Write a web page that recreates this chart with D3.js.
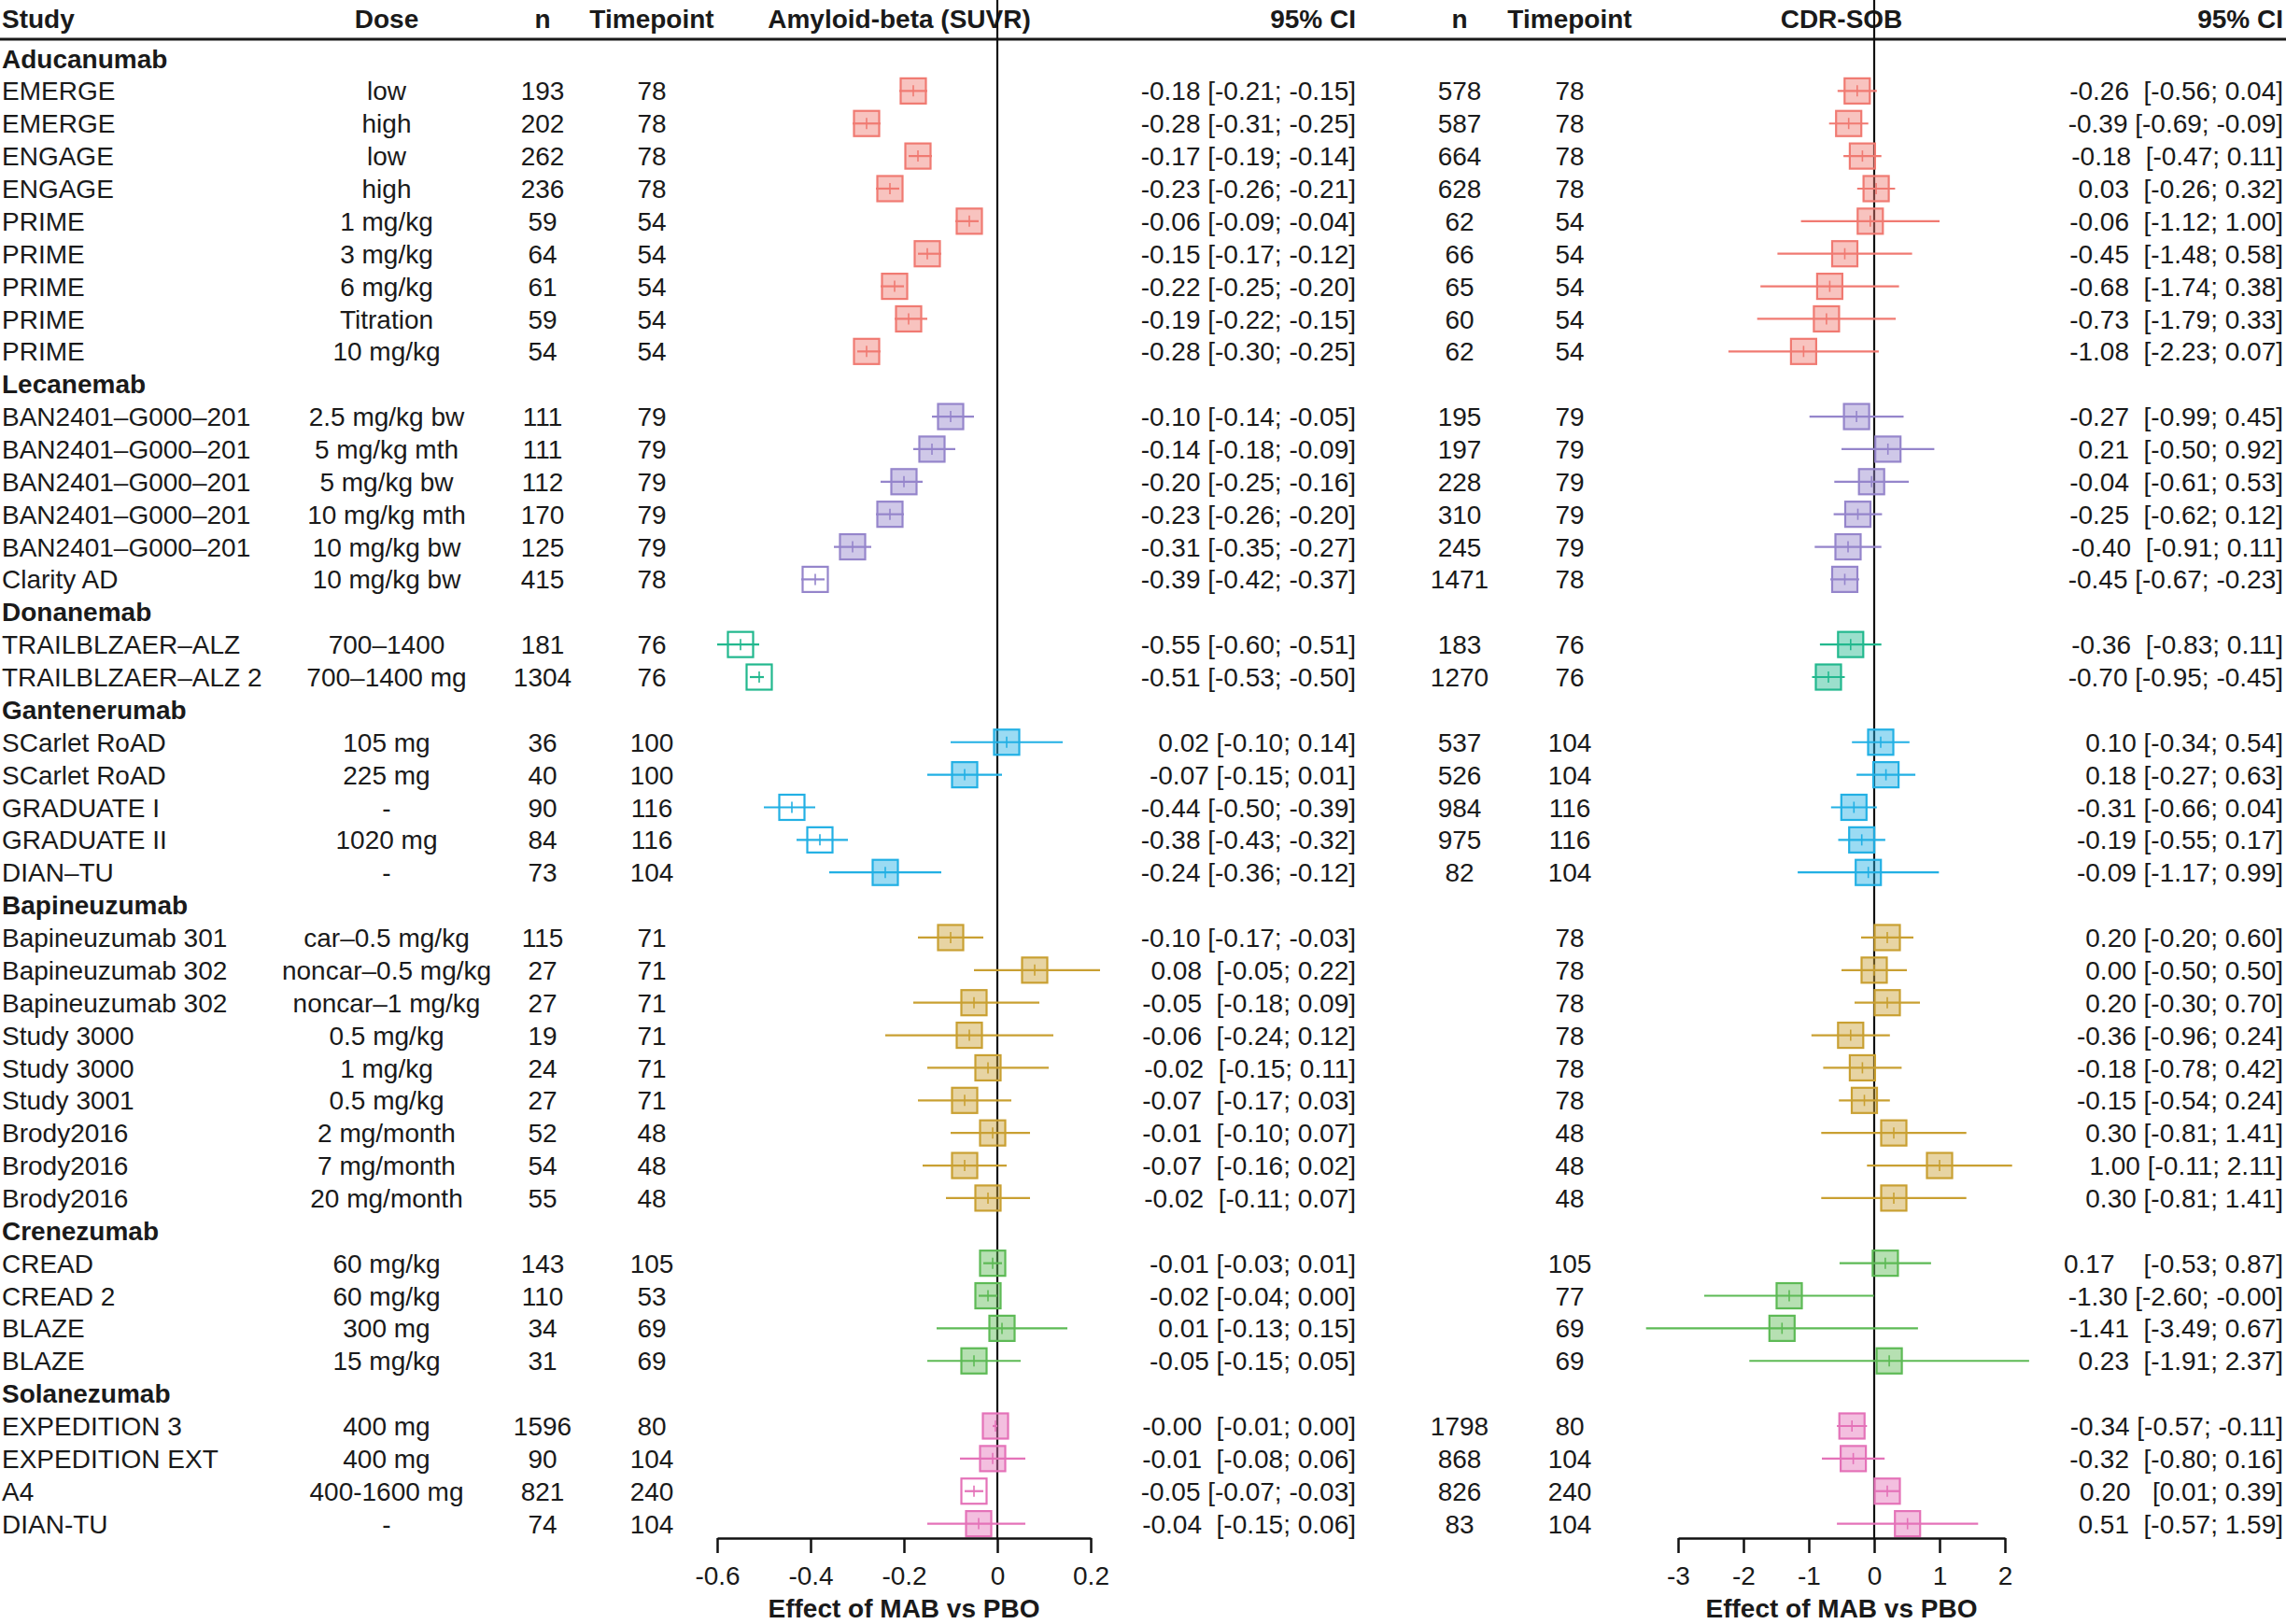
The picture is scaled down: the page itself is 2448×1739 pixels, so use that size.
<!DOCTYPE html>
<html>
<head>
<meta charset="utf-8">
<script src="https://cdn.jsdelivr.net/npm/d3@7"></script>
<style>
body { margin: 0; background: #fff; }
svg { display: block; font-family: "Liberation Sans", Arial, Helvetica, sans-serif; }
text { white-space: pre; }
</style>
</head>
<body>
<div class="container"></div>
<script>
// drug groups and how many study rows each has
var groupNames = ["Aducanumab", "Lecanemab", "Donanemab", "Gantenerumab", "Bapineuzumab", "Crenezumab", "Solanezumab"];
var groupCounts = [9, 6, 2, 5, 9, 4, 4];

var studies = ["EMERGE", "EMERGE", "ENGAGE", "ENGAGE", "PRIME", "PRIME", "PRIME", "PRIME", "PRIME",
    "BAN2401–G000–201", "BAN2401–G000–201", "BAN2401–G000–201", "BAN2401–G000–201", "BAN2401–G000–201", "Clarity AD",
    "TRAILBLZAER–ALZ", "TRAILBLZAER–ALZ 2",
    "SCarlet RoAD", "SCarlet RoAD", "GRADUATE I", "GRADUATE II", "DIAN–TU",
    "Bapineuzumab 301", "Bapineuzumab 302", "Bapineuzumab 302", "Study 3000", "Study 3000", "Study 3001", "Brody2016", "Brody2016", "Brody2016",
    "CREAD", "CREAD 2", "BLAZE", "BLAZE",
    "EXPEDITION 3", "EXPEDITION EXT", "A4", "DIAN-TU"];

var doses = ["low", "high", "low", "high", "1 mg/kg", "3 mg/kg", "6 mg/kg", "Titration", "10 mg/kg",
    "2.5 mg/kg bw", "5 mg/kg mth", "5 mg/kg bw", "10 mg/kg mth", "10 mg/kg bw", "10 mg/kg bw",
    "700–1400", "700–1400 mg",
    "105 mg", "225 mg", "-", "1020 mg", "-",
    "car–0.5 mg/kg", "noncar–0.5 mg/kg", "noncar–1 mg/kg", "0.5 mg/kg", "1 mg/kg", "0.5 mg/kg", "2 mg/month", "7 mg/month", "20 mg/month",
    "60 mg/kg", "60 mg/kg", "300 mg", "15 mg/kg",
    "400 mg", "400 mg", "400-1600 mg", "-"];

// Amyloid-beta (SUVR)
var nAmyloid = [193, 202, 262, 236, 59, 64, 61, 59, 54,
    111, 111, 112, 170, 125, 415,
    181, 1304,
    36, 40, 90, 84, 73,
    115, 27, 27, 19, 24, 27, 52, 54, 55,
    143, 110, 34, 31,
    1596, 90, 821, 74];
var tpAmyloid = [78, 78, 78, 78, 54, 54, 54, 54, 54,
    79, 79, 79, 79, 79, 78,
    76, 76,
    100, 100, 116, 116, 104,
    71, 71, 71, 71, 71, 71, 48, 48, 48,
    105, 53, 69, 69,
    80, 104, 240, 104];
var estAmyloid = [-0.18, -0.28, -0.17, -0.23, -0.06, -0.15, -0.22, -0.19, -0.28,
    -0.10, -0.14, -0.20, -0.23, -0.31, -0.39,
    -0.55, -0.51,
    0.02, -0.07, -0.44, -0.38, -0.24,
    -0.10, 0.08, -0.05, -0.06, -0.02, -0.07, -0.01, -0.07, -0.02,
    -0.01, -0.02, 0.01, -0.05,
    -0.004, -0.01, -0.05, -0.04];
var loAmyloid = [-0.21, -0.31, -0.19, -0.26, -0.09, -0.17, -0.25, -0.22, -0.30,
    -0.14, -0.18, -0.25, -0.26, -0.35, -0.42,
    -0.60, -0.53,
    -0.10, -0.15, -0.50, -0.43, -0.36,
    -0.17, -0.05, -0.18, -0.24, -0.15, -0.17, -0.10, -0.16, -0.11,
    -0.03, -0.04, -0.13, -0.15,
    -0.01, -0.08, -0.07, -0.15];
var hiAmyloid = [-0.15, -0.25, -0.14, -0.21, -0.04, -0.12, -0.20, -0.15, -0.25,
    -0.05, -0.09, -0.16, -0.20, -0.27, -0.37,
    -0.51, -0.50,
    0.14, 0.01, -0.39, -0.32, -0.12,
    -0.03, 0.22, 0.09, 0.12, 0.11, 0.03, 0.07, 0.02, 0.07,
    0.01, 0.00, 0.15, 0.05,
    0.00, 0.06, -0.03, 0.06];
// spaces between estimate and bracket in the printed CI
var gapAmyloid = [1, 1, 1, 1, 1, 1, 1, 1, 1,
    1, 1, 1, 1, 1, 1,
    1, 1,
    1, 1, 1, 1, 1,
    1, 2, 2, 2, 2, 2, 2, 2, 2,
    1, 1, 1, 1,
    2, 2, 1, 2];
// open (unfilled) squares
var openAmyloid = [0, 0, 0, 0, 0, 0, 0, 0, 0,
    0, 0, 0, 0, 0, 1,
    1, 1,
    0, 0, 1, 1, 0,
    0, 0, 0, 0, 0, 0, 0, 0, 0,
    0, 0, 0, 0,
    0, 0, 1, 0];

// CDR-SOB
var nCdr = [578, 587, 664, 628, 62, 66, 65, 60, 62,
    195, 197, 228, 310, 245, 1471,
    183, 1270,
    537, 526, 984, 975, 82,
    null, null, null, null, null, null, null, null, null,
    null, null, null, null,
    1798, 868, 826, 83];
var tpCdr = [78, 78, 78, 78, 54, 54, 54, 54, 54,
    79, 79, 79, 79, 79, 78,
    76, 76,
    104, 104, 116, 116, 104,
    78, 78, 78, 78, 78, 78, 48, 48, 48,
    105, 77, 69, 69,
    80, 104, 240, 104];
var estCdr = [-0.26, -0.39, -0.18, 0.03, -0.06, -0.45, -0.68, -0.73, -1.08,
    -0.27, 0.21, -0.04, -0.25, -0.40, -0.45,
    -0.36, -0.70,
    0.10, 0.18, -0.31, -0.19, -0.09,
    0.20, 0.00, 0.20, -0.36, -0.18, -0.15, 0.30, 1.00, 0.30,
    0.17, -1.30, -1.41, 0.23,
    -0.34, -0.32, 0.20, 0.51];
var loCdr = [-0.56, -0.69, -0.47, -0.26, -1.12, -1.48, -1.74, -1.79, -2.23,
    -0.99, -0.50, -0.61, -0.62, -0.91, -0.67,
    -0.83, -0.95,
    -0.34, -0.27, -0.66, -0.55, -1.17,
    -0.20, -0.50, -0.30, -0.96, -0.78, -0.54, -0.81, -0.11, -0.81,
    -0.53, -2.60, -3.49, -1.91,
    -0.57, -0.80, 0.01, -0.57];
var hiCdr = [0.04, -0.09, 0.11, 0.32, 1.00, 0.58, 0.38, 0.33, 0.07,
    0.45, 0.92, 0.53, 0.12, 0.11, -0.23,
    0.11, -0.45,
    0.54, 0.63, 0.04, 0.17, 0.99,
    0.60, 0.50, 0.70, 0.24, 0.42, 0.24, 1.41, 2.11, 1.41,
    0.87, -0.004, 0.67, 2.37,
    -0.11, 0.16, 0.39, 1.59];
var gapCdr = [2, 1, 2, 2, 2, 2, 2, 2, 2,
    2, 2, 2, 2, 2, 1,
    2, 1,
    1, 1, 1, 1, 1,
    1, 1, 1, 1, 1, 1, 1, 1, 1,
    4, 1, 2, 2,
    1, 2, 3, 2];

var ticksAmyloid = [-0.6, -0.4, -0.2, 0, 0.2];
var ticksCdr = [-3, -2, -1, 0, 1, 2];

var groupColors = {
    Aducanumab: "#F07A72",
    Lecanemab: "#9585CB",
    Donanemab: "#22B88E",
    Gantenerumab: "#22B0E4",
    Bapineuzumab: "#C9A032",
    Crenezumab: "#5DBA55",
    Solanezumab: "#E472B8"
};

var width = 2448, height = 1739;
var fontSize = 28;
var boxSize = 27;
var axisY = 1647;

var svg = d3.select(".container").append("svg")
    .attr("width", width)
    .attr("height", height);

svg.append("rect").attr("width", width).attr("height", height).attr("fill", "#fff");

// rows: group heading then its studies
var lines = [];
var r = 0;
groupNames.forEach(function (g, gi) {
    lines.push({ type: "group", name: g });
    for (var k = 0; k < groupCounts[gi]; k++) {
        lines.push({ type: "row", i: r, group: g });
        r++;
    }
});
var rows = lines.map(function (d, j) { d.line = j; return d; }).filter(function (d) { return d.type == "row"; });
var heads = lines.filter(function (d) { return d.type == "group"; });

var y = d3.scaleLinear().domain([0, lines.length - 1]).range([62.5, 1631.6]);
var xA = d3.scaleLinear().domain([-0.6, 0.2]).range([768, 1168]);
var xC = d3.scaleLinear().domain([-3, 2]).range([1797, 2147]);

function ciText(est, lo, hi, gap) {
    return est.toFixed(2) + " ".repeat(gap) + "[" + lo.toFixed(2) + "; " + hi.toFixed(2) + "]";
}

// header
var header = [
    { t: "Study", x: 2, a: "start" },
    { t: "Dose", x: 414, a: "middle" },
    { t: "n", x: 581, a: "middle" },
    { t: "Timepoint", x: 698, a: "middle" },
    { t: "Amyloid-beta (SUVR)", x: 963, a: "middle" },
    { t: "95% CI", x: 1452, a: "end" },
    { t: "n", x: 1563, a: "middle" },
    { t: "Timepoint", x: 1681, a: "middle" },
    { t: "CDR-SOB", x: 1972, a: "middle" },
    { t: "95% CI", x: 2445, a: "end" }
];
svg.append("g").selectAll("text")
    .data(header).enter().append("text")
    .attr("x", function (d) { return d.x; })
    .attr("y", 30)
    .attr("text-anchor", function (d) { return d.a; })
    .attr("font-size", fontSize)
    .attr("font-weight", "bold")
    .attr("fill", "#1a1a1a")
    .text(function (d) { return d.t; });

svg.append("line")
    .attr("x1", 0).attr("x2", width)
    .attr("y1", 42).attr("y2", 42)
    .attr("stroke", "#1a1a1a")
    .attr("stroke-width", 3);

// group headings
svg.append("g").selectAll("text")
    .data(heads).enter().append("text")
    .attr("x", 2)
    .attr("y", function (d) { return y(d.line); })
    .attr("dy", "0.36em")
    .attr("font-size", fontSize)
    .attr("font-weight", "bold")
    .attr("fill", "#1a1a1a")
    .text(function (d) { return d.name; });

// text columns
var cols = [
    { x: 2, a: "start", f: function (i) { return studies[i]; } },
    { x: 414, a: "middle", f: function (i) { return doses[i]; } },
    { x: 581, a: "middle", f: function (i) { return nAmyloid[i]; } },
    { x: 698, a: "middle", f: function (i) { return tpAmyloid[i]; } },
    { x: 1452, a: "end", f: function (i) { return ciText(estAmyloid[i], loAmyloid[i], hiAmyloid[i], gapAmyloid[i]); } },
    { x: 1563, a: "middle", f: function (i) { return nCdr[i] == null ? "" : nCdr[i]; } },
    { x: 1681, a: "middle", f: function (i) { return tpCdr[i]; } },
    { x: 2445, a: "end", f: function (i) { return ciText(estCdr[i], loCdr[i], hiCdr[i], gapCdr[i]); } }
];
cols.forEach(function (c) {
    svg.append("g").selectAll("text")
        .data(rows).enter().append("text")
        .attr("x", c.x)
        .attr("y", function (d) { return y(d.line); })
        .attr("dy", "0.36em")
        .attr("text-anchor", c.a)
        .attr("font-size", fontSize)
        .attr("fill", "#1a1a1a")
        .text(function (d) { return c.f(d.i); });
});

// zero lines
[xA(0), xC(0)].forEach(function (x0) {
    svg.append("line")
        .attr("x1", x0).attr("x2", x0)
        .attr("y1", 0).attr("y2", axisY)
        .attr("stroke", "#111")
        .attr("stroke-width", 2.2);
});

// forest panels
function drawPanel(x, est, lo, hi, open) {
    var g = svg.append("g").selectAll("g")
        .data(rows).enter().append("g");

    g.append("rect")
        .attr("x", function (d) { return x(est[d.i]) - boxSize / 2; })
        .attr("y", function (d) { return y(d.line) - boxSize / 2; })
        .attr("width", boxSize)
        .attr("height", boxSize)
        .attr("fill", function (d) { return open && open[d.i] ? "#fff" : groupColors[d.group]; })
        .attr("fill-opacity", function (d) { return open && open[d.i] ? 1 : 0.45; })
        .attr("stroke", function (d) { return groupColors[d.group]; })
        .attr("stroke-width", 2.2);

    g.append("line")
        .attr("x1", function (d) { return x(lo[d.i]); })
        .attr("x2", function (d) { return x(hi[d.i]); })
        .attr("y1", function (d) { return y(d.line); })
        .attr("y2", function (d) { return y(d.line); })
        .attr("stroke", function (d) { return groupColors[d.group]; })
        .attr("stroke-width", 2.2);

    g.append("line")
        .attr("x1", function (d) { return x(est[d.i]); })
        .attr("x2", function (d) { return x(est[d.i]); })
        .attr("y1", function (d) { return y(d.line) - 6; })
        .attr("y2", function (d) { return y(d.line) + 6; })
        .attr("stroke", function (d) { return groupColors[d.group]; })
        .attr("stroke-width", 1.6);
}
drawPanel(xA, estAmyloid, loAmyloid, hiAmyloid, openAmyloid);
drawPanel(xC, estCdr, loCdr, hiCdr, null);

// axes
function drawAxis(x, ticks) {
    var ax = svg.append("g")
        .attr("transform", "translate(0," + axisY + ")")
        .call(d3.axisBottom(x)
            .tickValues(ticks)
            .tickFormat(function (d) { return String(d); })
            .tickSize(16)
            .tickSizeOuter(0)
            .tickPadding(14));
    ax.select(".domain").attr("stroke", "#111").attr("stroke-width", 2.5);
    ax.selectAll(".tick line").attr("stroke", "#111").attr("stroke-width", 2.5);
    ax.selectAll(".tick text")
        .attr("font-size", fontSize)
        .attr("font-family", "Liberation Sans, Arial, sans-serif")
        .attr("fill", "#1a1a1a");

    svg.append("text")
        .attr("x", (x.range()[0] + x.range()[1]) / 2)
        .attr("y", 1732)
        .attr("text-anchor", "middle")
        .attr("font-size", fontSize)
        .attr("font-weight", "bold")
        .attr("fill", "#1a1a1a")
        .text("Effect of MAB vs PBO");
}
drawAxis(xA, ticksAmyloid);
drawAxis(xC, ticksCdr);
</script>
</body>
</html>
